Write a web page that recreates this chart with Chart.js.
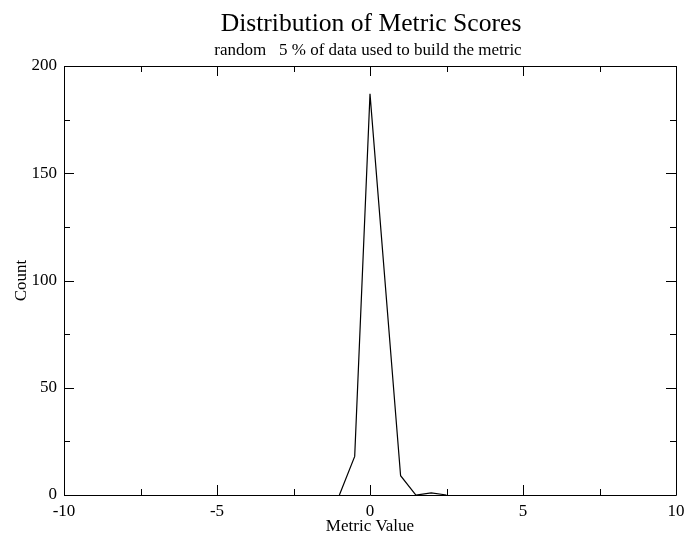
<!DOCTYPE html>
<html><head><meta charset="utf-8">
<script src="https://cdn.jsdelivr.net/npm/chart.js@4"></script>
<style>html,body{margin:0;padding:0;background:#fff}#c{display:block}</style>
</head><body>
<canvas id="c" width="686" height="538"></canvas>
<script>
const metricValues = [-1, -0.5, 0, 1, 1.5, 2, 2.5];
const counts = [0, 18, 187, 9, 0, 1, 0];
const xMajor = [-10, -5, 0, 5, 10];
const xMinor = [-7.5, -2.5, 2.5, 7.5];
const yMajor = [0, 50, 100, 150, 200];
const yMinor = [25, 75, 125, 175];
const titleText = 'Distribution of Metric Scores';
const subtitleText = 'random   5 % of data used to build the metric';
const xTitle = 'Metric Value';
const yTitle = 'Count';

const SERIF = '"Liberation Serif", "DejaVu Serif", serif';

const framePlugin = {
  id: 'frame',
  afterDraw(chart) {
    const {ctx, chartArea: a, scales: {x, y}} = chart;
    ctx.save();
    ctx.strokeStyle = '#000';
    ctx.lineWidth = 1;
    ctx.beginPath();
    ctx.rect(Math.round(a.left) + 0.5, Math.round(a.top) + 0.5, Math.round(a.right - a.left), Math.round(a.bottom - a.top));
    ctx.stroke();
    const tick = (vals, len) => {
      vals.forEach(v => {
        const px = Math.round(x.getPixelForValue(v)) + 0.5;
        ctx.moveTo(px, a.bottom); ctx.lineTo(px, a.bottom - len);
        ctx.moveTo(px, a.top); ctx.lineTo(px, a.top + len);
      });
    };
    const ytick = (vals, len) => {
      vals.forEach(v => {
        const py = Math.round(y.getPixelForValue(v)) + 0.5;
        ctx.moveTo(a.left, py); ctx.lineTo(a.left + len, py);
        ctx.moveTo(a.right, py); ctx.lineTo(a.right - len, py);
      });
    };
    ctx.beginPath();
    tick(xMajor, 10); tick(xMinor, 6);
    ytick(yMajor, 10); ytick(yMinor, 6);
    ctx.stroke();
    const cx = (a.left + a.right) / 2;
    ctx.fillStyle = '#000';
    ctx.textAlign = 'center';
    ctx.textBaseline = 'alphabetic';
    ctx.font = '25.6px ' + SERIF;
    ctx.fillText(titleText, cx + 1, 31);
    ctx.font = '17px ' + SERIF;
    ctx.fillText(subtitleText, cx - 2, 55);
    ctx.restore();
  }
};

new Chart(document.getElementById('c'), {
  type: 'scatter',
  data: {
    datasets: [{
      data: metricValues.map((v, i) => ({x: v, y: counts[i]})),
      showLine: true,
      borderColor: '#000',
      borderWidth: 1.2,
      pointRadius: 0,
      tension: 0,
      clip: false
    }]
  },
  options: {
    responsive: false,
    animation: false,
    devicePixelRatio: 1,
    layout: {padding: {top: 66, right: 10, left: 0, bottom: 0}},
    plugins: {legend: {display: false}, tooltip: {enabled: false}},
    scales: {
      x: {
        type: 'linear', min: -10, max: 10,
        afterBuildTicks: s => { s.ticks = xMajor.map(v => ({value: v})); },
        ticks: {color: '#000', font: {family: SERIF, size: 17}, padding: 6, maxRotation: 0, autoSkip: false},
        grid: {display: false, drawTicks: false},
        border: {display: false},
        title: {display: true, text: xTitle, color: '#000', font: {family: SERIF, size: 17}, padding: {top: 0, bottom: 1}},
        afterFit: s => { s.height = 43; s.paddingRight = 0; s.paddingLeft = 0; }
      },
      y: {
        type: 'linear', min: 0, max: 200,
        afterBuildTicks: s => { s.ticks = yMajor.map(v => ({value: v})); },
        ticks: {color: '#000', font: {family: SERIF, size: 17}, padding: 7},
        grid: {display: false, drawTicks: false},
        border: {display: false},
        title: {display: true, text: yTitle, color: '#000', font: {family: SERIF, size: 17}, padding: {top: 11, bottom: 0}},
        afterFit: s => { s.width = 64; s.paddingTop = 0; s.paddingBottom = 0; }
      }
    }
  },
  plugins: [framePlugin]
});
</script>
</body></html>
